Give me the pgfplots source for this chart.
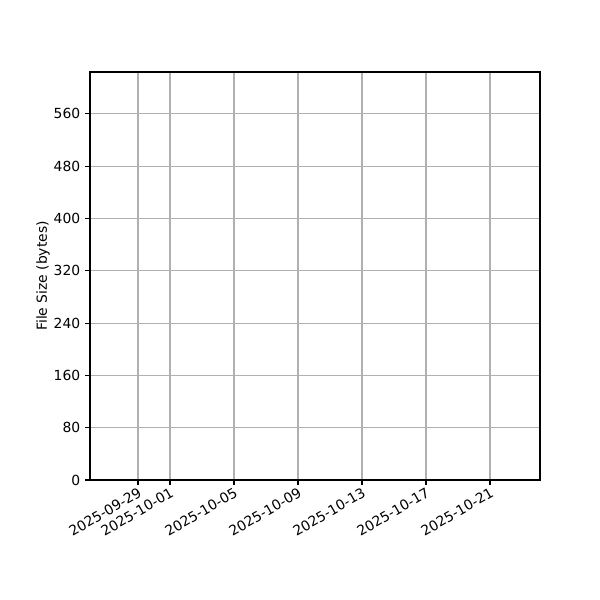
\documentclass[border=0pt]{standalone}
\usepackage{fontspec}
\setmainfont{DejaVu Sans}
\usepackage{pgfplots}
\pgfplotsset{compat=1.18}
\definecolor{gridgray}{HTML}{B0B0B0}

\begin{document}
\begin{tikzpicture}
% page frame: 600 x 600 px (1 px = 0.72 pt)
\path (0pt,0pt) rectangle (432pt,432pt);
\begin{axis}[
    at={(64.8pt,86.4pt)},
    anchor=south west,
    scale only axis,
    width=324pt,
    height=293.76pt,
    xmin=-5, xmax=23.125,
    ymin=0, ymax=624,
    % days counted from 2025-10-01
    xtick={-2,0,4,8,12,16,20},
    xticklabels={2025-09-29,2025-10-01,2025-10-05,2025-10-09,2025-10-13,2025-10-17,2025-10-21},
    ytick={0,80,160,240,320,400,480,560},
    xticklabel style={rotate=30, anchor=north east, font=\fontsize{10}{12}\selectfont, inner sep=1pt},
    yticklabel style={font=\fontsize{10}{12}\selectfont},
    ylabel={File Size (bytes)},
    ylabel style={font=\fontsize{10}{12}\selectfont},
    ylabel shift=-4pt,
    /pgf/number format/assume math mode=true,
    xmajorgrids, ymajorgrids,
    grid style={gridgray, line width=0.8pt},
    axis line style={black, line width=0.8pt},
    tick style={black, line width=0.8pt},
    tick align=outside,
    major tick length=3.5pt,
    xtick pos=bottom, ytick pos=left,
]
\end{axis}
\end{tikzpicture}
\end{document}
